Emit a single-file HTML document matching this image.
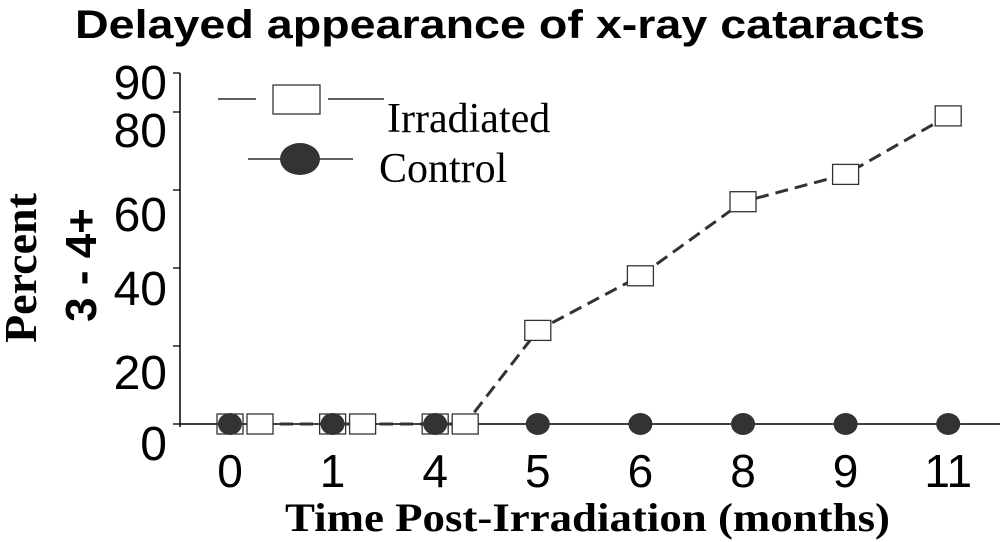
<!DOCTYPE html>
<html><head><meta charset="utf-8"><style>
html,body{margin:0;padding:0;background:#fff;}
svg{display:block;}
</style></head><body>
<svg id="chart" width="1000" height="542" viewBox="0 0 1000 542" xmlns="http://www.w3.org/2000/svg">
<text x="75" y="38" font-family="Liberation Sans, sans-serif" font-weight="bold" font-size="40" textLength="850" lengthAdjust="spacingAndGlyphs">Delayed appearance of x-ray cataracts</text>
<text transform="translate(36,268) rotate(-90)" text-anchor="middle" font-family="Liberation Serif, serif" font-weight="bold" font-size="46">Percent</text>
<text transform="translate(96,265) rotate(-90)" text-anchor="middle" font-family="Liberation Sans, sans-serif" font-weight="bold" font-size="44">3 - 4+</text>
<g id="axes"></g>
<g id="series"></g>
<g>
<line x1="218" y1="99" x2="256" y2="99" stroke="#000" stroke-width="1.3"/>
<rect x="273" y="85" width="47" height="29" fill="#fff" stroke="#333" stroke-width="1.3"/>
<line x1="328" y1="99" x2="384" y2="99" stroke="#000" stroke-width="1.3"/>
<text x="387" y="132" font-family="Liberation Serif, serif" font-size="42">Irradiated</text>
<line x1="248" y1="159" x2="353" y2="159" stroke="#000" stroke-width="1.3"/>
<ellipse cx="300" cy="159" rx="20" ry="16" fill="#333"/>
<text x="379" y="182" font-family="Liberation Serif, serif" font-size="42">Control</text>
</g>
<text x="285" y="531" font-family="Liberation Serif, serif" font-weight="bold" font-size="40" textLength="605" lengthAdjust="spacingAndGlyphs">Time Post-Irradiation (months)</text>
</svg>
<script>
const categories = ["0","1","4","5","6","8","9","11"];
const irradiated = [0,0,0,24,38,57,64,79];
const control = [0,0,0,0,0,0,0,0];
const yTicks = [0,20,40,60,80,90];
const yLabelPos = {0:443,20:372,40:288,60:214,80:130,90:82};
const NS = "http://www.w3.org/2000/svg";
function x(i){ return 230 + i*102.6; }
function y(v){ return 424 - v*3.9; }
function mk(tag, attrs, parent){ const e=document.createElementNS(NS,tag); for(const k in attrs) e.setAttribute(k,attrs[k]); parent.appendChild(e); return e; }
const axes=document.getElementById('axes'), series=document.getElementById('series');
let l=mk('line',{x1:180,y1:y(90),x2:180,y2:y(0)+3,stroke:'#000','stroke-width':1.5},axes);


l=mk('line',{x1:180,y1:y(0),x2:1000,y2:y(0),stroke:'#000','stroke-width':1.5},axes);


yTicks.forEach(t=>{
  const tk=mk('line',{x1:173,y1:y(t),x2:180,y2:y(t),stroke:'#000','stroke-width':1.3},axes);
  
  
  const tx=mk('text',{x:167,y:yLabelPos[t]+17,'text-anchor':'end','font-family':'Liberation Sans, sans-serif','font-size':48},axes);
  tx.textContent=t;
  
  
});
categories.forEach((c,i)=>{
  const tx=mk('text',{x:x(i),y:487,'text-anchor':'middle','font-family':'Liberation Sans, sans-serif','font-size':46},axes);
  tx.textContent=c;
  
  
});
function ix(i){ return irradiated[i]===0 ? x(i)+30 : x(i); }
let d='';
irradiated.forEach((v,i)=>{ d+=(i?'L':'M')+ix(i)+' '+y(v)+' '; });
const p=mk('path',{d:d,fill:'none',stroke:'#333','stroke-width':3,'stroke-dasharray':'13 7'},series);


control.forEach((v,i)=>{
  if(irradiated[i]===0){
    const r=mk('rect',{x:x(i)-13,y:y(v)-10,width:26,height:20,fill:'none',stroke:'#333','stroke-width':1.3},series);
    
    
  }
  const e=mk('ellipse',{cx:x(i),cy:y(v),rx:12,ry:11,fill:'#333'},series);
  
  
});
irradiated.forEach((v,i)=>{
  const r=mk('rect',{x:ix(i)-13,y:y(v)-10,width:26,height:20,fill:'#fff',stroke:'#333','stroke-width':1.3},series);
  
  
});
</script>
</body></html>
